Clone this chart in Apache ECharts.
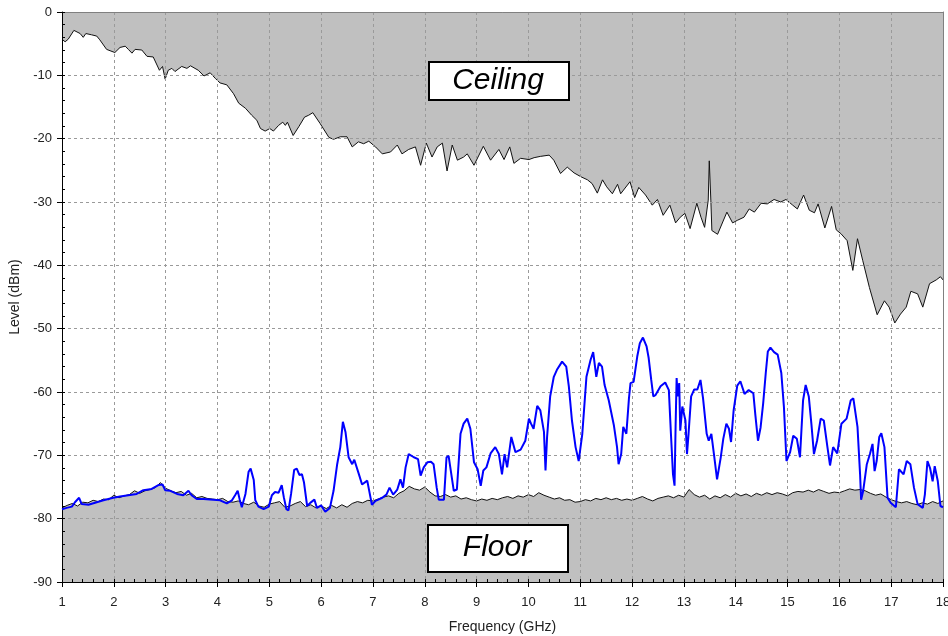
<!DOCTYPE html>
<html>
<head>
<meta charset="utf-8">
<script src="https://cdn.jsdelivr.net/npm/echarts@6/dist/echarts.min.js"></script>
<style>
html, body { margin: 0; padding: 0; background: #fff; }
#show_picture { width: 948px; height: 636px; }
</style>
</head>
<body>
<div id="show_picture"></div>
<script>
// upper limit line (grey above it)
const ceilFreq = [1.00, 1.06, 1.12, 1.23, 1.35, 1.41, 1.46, 1.57, 1.67, 1.73, 1.86, 2.02, 2.12, 2.22, 2.28, 2.35, 2.41, 2.54, 2.64, 2.76,
    2.88, 2.94, 2.99, 3.05, 3.12, 3.18, 3.31, 3.41, 3.48, 3.63, 3.74, 3.86, 3.96, 4.05, 4.18, 4.31, 4.41, 4.54, 4.66, 4.76,
    4.83, 4.92, 5.01, 5.08, 5.18, 5.26, 5.31, 5.35, 5.46, 5.57, 5.68, 5.76, 5.84, 5.98, 6.15, 6.24, 6.37, 6.50, 6.60, 6.72,
    6.82, 6.92, 7.05, 7.18, 7.34, 7.47, 7.56, 7.69, 7.82, 7.92, 8.03, 8.14, 8.24, 8.34, 8.43, 8.53, 8.63, 8.75, 8.82, 8.95,
    9.13, 9.27, 9.43, 9.53, 9.64, 9.72, 9.85, 10.01, 10.11, 10.23, 10.40, 10.49, 10.62, 10.75, 10.88, 11.01, 11.14, 11.23, 11.33, 11.43,
    11.51, 11.62, 11.72, 11.78, 11.96, 12.05, 12.13, 12.26, 12.39, 12.49, 12.60, 12.73, 12.84, 12.93, 13.02, 13.12, 13.25, 13.33, 13.40, 13.47,
    13.49, 13.52, 13.54, 13.65, 13.83, 13.94, 14.03, 14.16, 14.26, 14.36, 14.49, 14.61, 14.74, 14.87, 14.97, 15.10, 15.19, 15.31, 15.42, 15.52,
    15.59, 15.72, 15.85, 15.94, 16.03, 16.15, 16.26, 16.35, 16.45, 16.58, 16.73, 16.87, 16.96, 17.07, 17.18, 17.29, 17.38, 17.51, 17.61, 17.74,
    17.87, 17.95, 18.00];
const ceilLevel = [-4.3, -4.7, -4.3, -2.9, -3.4, -4.0, -3.4, -3.6, -3.8, -4.4, -5.9, -6.4, -5.6, -5.4, -5.9, -6.5, -5.9, -6.0, -7.0, -7.1,
    -9.2, -8.6, -10.6, -9.2, -8.9, -9.4, -8.6, -8.9, -8.5, -9.2, -10.1, -9.6, -10.5, -11.2, -11.5, -12.9, -14.4, -15.2, -16.3, -17.1,
    -18.4, -18.8, -18.4, -18.8, -17.9, -17.4, -17.9, -17.4, -19.5, -18.1, -16.6, -16.3, -15.9, -17.6, -19.8, -20.1, -19.7, -19.7, -21.3, -20.5,
    -20.8, -20.4, -21.3, -22.4, -22.1, -21.0, -22.4, -21.7, -21.3, -24.2, -20.7, -22.9, -21.3, -20.7, -25.1, -21.0, -23.4, -22.9, -22.4, -24.2,
    -21.2, -23.4, -21.7, -23.3, -21.3, -23.9, -23.1, -23.3, -23.0, -22.8, -22.6, -23.4, -25.5, -24.5, -25.4, -26.0, -26.5, -27.1, -28.6, -26.5,
    -27.6, -28.7, -27.2, -28.7, -26.8, -29.3, -27.7, -28.9, -30.5, -29.6, -32.1, -30.5, -33.3, -32.4, -31.8, -34.2, -30.2, -32.4, -34.0, -29.7,
    -23.5, -29.7, -34.5, -35.1, -31.6, -33.3, -32.9, -32.4, -31.1, -31.6, -30.2, -30.3, -29.6, -30.0, -29.6, -30.5, -31.1, -28.9, -31.3, -31.7,
    -30.3, -34.1, -30.7, -34.4, -35.0, -36.1, -40.8, -35.8, -39.2, -43.5, -47.8, -45.6, -46.6, -49.1, -47.7, -46.6, -44.1, -44.5, -46.6, -42.9,
    -42.3, -41.8, -42.3];

// lower limit line (grey below it)
const floorFreq = [1.0, 1.1, 1.2, 1.3, 1.4, 1.5, 1.6, 1.7, 1.8, 1.9, 2.0, 2.1, 2.2, 2.3, 2.4, 2.5, 2.6, 2.7, 2.8, 2.9,
    3.0, 3.1, 3.2, 3.3, 3.4, 3.5, 3.6, 3.7, 3.8, 3.9, 4.0, 4.1, 4.2, 4.3, 4.4, 4.5, 4.6, 4.7, 4.8, 4.9,
    5.0, 5.1, 5.2, 5.3, 5.4, 5.5, 5.6, 5.7, 5.8, 5.9, 6.0, 6.1, 6.2, 6.3, 6.4, 6.5, 6.6, 6.7, 6.8, 6.9,
    7.0, 7.1, 7.2, 7.3, 7.4, 7.5, 7.6, 7.7, 7.8, 7.9, 8.0, 8.1, 8.2, 8.3, 8.4, 8.5, 8.6, 8.7, 8.8, 8.9,
    9.0, 9.1, 9.2, 9.3, 9.4, 9.5, 9.6, 9.7, 9.8, 9.9, 10.0, 10.1, 10.2, 10.3, 10.4, 10.5, 10.6, 10.7, 10.8, 10.9,
    11.0, 11.1, 11.2, 11.3, 11.4, 11.5, 11.6, 11.7, 11.8, 11.9, 12.0, 12.1, 12.2, 12.3, 12.4, 12.5, 12.6, 12.7, 12.8, 12.9,
    13.0, 13.1, 13.2, 13.3, 13.4, 13.5, 13.6, 13.7, 13.8, 13.9, 14.0, 14.1, 14.2, 14.3, 14.4, 14.5, 14.6, 14.7, 14.8, 14.9,
    15.0, 15.1, 15.2, 15.3, 15.4, 15.5, 15.6, 15.7, 15.8, 15.9, 16.0, 16.1, 16.2, 16.3, 16.4, 16.5, 16.6, 16.7, 16.8, 16.9,
    17.0, 17.1, 17.2, 17.3, 17.4, 17.5, 17.6, 17.7, 17.8, 17.9, 18.0];
const floorLevel = [-78.3, -77.9, -77.6, -78.0, -77.4, -77.5, -77.1, -77.3, -76.9, -77.0, -76.3, -76.7, -76.4, -76.2, -75.6, -76.0, -75.6, -75.4, -75.1, -74.3,
    -75.2, -75.6, -75.9, -75.7, -76.3, -76.0, -76.7, -76.5, -76.8, -76.9, -77.0, -76.8, -77.3, -77.4, -77.2, -77.6, -77.8, -77.4, -78.0, -78.2,
    -77.7, -77.5, -77.3, -78.2, -78.0, -77.6, -77.3, -78.1, -77.8, -78.3, -78.0, -78.4, -77.9, -78.3, -77.8, -78.2, -77.6, -77.3, -77.5, -77.1,
    -77.2, -76.9, -76.6, -76.4, -76.7, -76.0, -75.6, -74.9, -75.3, -75.5, -75.0, -75.8, -76.4, -76.5, -76.2, -76.6, -76.4, -76.9, -76.7, -77.0,
    -77.2, -76.9, -77.1, -76.8, -77.0, -76.7, -76.5, -76.8, -76.4, -76.6, -76.2, -76.5, -75.9, -76.3, -76.6, -76.9, -76.7, -77.1, -77.0, -77.4,
    -77.3, -77.0, -77.2, -76.8, -77.0, -76.7, -77.0, -76.8, -77.1, -76.9, -77.1, -76.8, -76.5, -76.9, -77.2, -76.8, -76.6, -76.4, -76.7, -76.3,
    -76.6, -75.4, -76.2, -76.6, -76.3, -76.9, -76.4, -76.7, -76.2, -76.6, -76.0, -76.4, -76.1, -76.5, -76.0, -76.3, -75.9, -76.2, -75.9, -76.1,
    -76.4, -75.9, -75.7, -75.8, -75.5, -75.8, -75.4, -75.7, -76.0, -75.8, -75.9, -75.6, -75.3, -75.5, -75.4, -75.6, -76.0, -76.3, -76.1, -76.6,
    -77.0, -77.3, -77.5, -77.3, -77.6, -77.8, -77.5, -77.7, -77.3, -77.6, -77.2];

// measured trace (blue)
const sigFreq = [1.00, 1.09, 1.19, 1.25, 1.33, 1.38, 1.51, 1.67, 1.80, 1.99, 2.12, 2.28, 2.44, 2.57, 2.73, 2.86, 2.94, 2.99, 3.09, 3.22,
    3.34, 3.44, 3.50, 3.60, 3.73, 3.92, 4.05, 4.18, 4.28, 4.34, 4.39, 4.43, 4.47, 4.54, 4.60, 4.64, 4.70, 4.73, 4.79, 4.89,
    4.99, 5.05, 5.11, 5.18, 5.24, 5.28, 5.33, 5.37, 5.42, 5.48, 5.53, 5.58, 5.63, 5.67, 5.73, 5.79, 5.87, 5.92, 6.00, 6.08,
    6.17, 6.24, 6.31, 6.37, 6.42, 6.47, 6.53, 6.60, 6.64, 6.73, 6.79, 6.89, 6.92, 6.98, 7.05, 7.18, 7.26, 7.32, 7.39, 7.47,
    7.53, 7.58, 7.63, 7.69, 7.79, 7.87, 7.92, 7.98, 8.05, 8.12, 8.17, 8.23, 8.27, 8.37, 8.42, 8.46, 8.56, 8.62, 8.69, 8.75,
    8.82, 8.88, 8.95, 9.02, 9.08, 9.13, 9.19, 9.27, 9.36, 9.43, 9.49, 9.54, 9.59, 9.67, 9.75, 9.85, 9.94, 10.01, 10.05, 10.10,
    10.17, 10.23, 10.30, 10.33, 10.36, 10.42, 10.49, 10.55, 10.65, 10.73, 10.78, 10.84, 10.91, 10.97, 11.04, 11.12, 11.20, 11.25, 11.31, 11.36,
    11.42, 11.47, 11.55, 11.65, 11.71, 11.74, 11.79, 11.83, 11.89, 11.94, 11.97, 12.03, 12.10, 12.15, 12.21, 12.28, 12.32, 12.37, 12.41, 12.45,
    12.55, 12.64, 12.71, 12.75, 12.79, 12.82, 12.84, 12.86, 12.88, 12.91, 12.93, 12.97, 13.00, 13.03, 13.06, 13.09, 13.14, 13.20, 13.26, 13.32,
    13.37, 13.44, 13.48, 13.53, 13.58, 13.64, 13.71, 13.76, 13.82, 13.87, 13.91, 13.96, 14.03, 14.09, 14.17, 14.25, 14.34, 14.38, 14.43, 14.48,
    14.53, 14.58, 14.62, 14.67, 14.74, 14.81, 14.88, 14.93, 14.98, 15.05, 15.11, 15.18, 15.24, 15.30, 15.35, 15.41, 15.46, 15.51, 15.57, 15.64,
    15.70, 15.77, 15.82, 15.88, 15.96, 16.04, 16.14, 16.22, 16.27, 16.35, 16.40, 16.42, 16.46, 16.53, 16.59, 16.64, 16.68, 16.72, 16.77, 16.81,
    16.87, 16.93, 16.99, 17.09, 17.15, 17.24, 17.30, 17.37, 17.44, 17.51, 17.61, 17.65, 17.70, 17.75, 17.80, 17.84, 17.90, 17.95, 18.00];
const sigLevel = [-78.5, -78.3, -78.1, -77.4, -76.7, -77.7, -77.8, -77.4, -77.1, -76.7, -76.5, -76.3, -76.1, -75.5, -75.3, -74.7, -74.6, -75.5, -75.6, -76.1,
    -76.3, -75.6, -76.3, -76.9, -76.9, -77.0, -77.1, -77.6, -77.1, -76.3, -75.6, -77.0, -78.2, -76.1, -72.6, -72.1, -73.9, -77.1, -78.1, -78.5,
    -78.1, -76.3, -75.8, -75.9, -74.7, -76.6, -78.5, -78.7, -76.1, -72.3, -72.1, -73.1, -73.0, -74.3, -78.0, -77.5, -77.0, -78.3, -77.9, -78.9,
    -78.3, -75.6, -71.4, -68.7, -64.7, -66.3, -70.3, -71.4, -70.7, -73.0, -74.6, -74.0, -74.3, -77.8, -77.2, -76.7, -76.2, -75.1, -76.2, -75.4,
    -73.8, -75.1, -71.9, -69.8, -70.3, -70.6, -73.2, -71.9, -71.1, -71.0, -71.4, -75.1, -77.0, -77.0, -70.3, -70.1, -75.6, -75.4, -66.6, -65.0,
    -64.2, -65.8, -71.1, -72.2, -74.8, -72.4, -71.9, -69.7, -68.7, -69.8, -73.0, -69.8, -71.9, -67.1, -69.5, -69.1, -67.7, -64.2, -65.0, -65.8,
    -62.2, -62.9, -66.3, -72.4, -67.1, -60.7, -57.6, -56.5, -55.2, -56.0, -59.1, -64.5, -68.7, -70.9, -66.6, -57.6, -54.9, -53.7, -57.6, -55.4,
    -56.0, -58.9, -61.3, -65.3, -68.7, -71.4, -69.8, -65.5, -66.6, -61.0, -58.6, -58.4, -54.4, -52.3, -51.4, -52.8, -54.6, -58.1, -60.7, -60.5,
    -59.1, -58.5, -59.7, -66.6, -73.0, -74.8, -65.5, -57.8, -60.7, -58.6, -66.1, -62.3, -63.4, -64.5, -69.8, -66.6, -60.7, -59.6, -59.6, -58.1,
    -61.0, -66.6, -67.7, -66.6, -69.8, -73.8, -70.4, -67.4, -65.0, -65.8, -67.9, -62.9, -59.0, -58.3, -60.3, -59.7, -60.2, -63.7, -67.7, -65.6,
    -61.8, -57.0, -53.6, -53.0, -53.7, -54.1, -57.0, -62.3, -70.9, -69.5, -66.9, -67.4, -70.3, -61.3, -58.9, -60.7, -65.0, -69.8, -67.7, -64.2,
    -64.5, -68.7, -71.6, -68.7, -69.7, -65.0, -64.2, -61.3, -61.0, -65.5, -73.0, -77.0, -75.6, -71.4, -69.8, -68.2, -72.5, -70.9, -67.1, -66.5,
    -68.7, -76.7, -77.5, -78.2, -72.2, -73.0, -70.9, -71.4, -75.1, -77.7, -78.3, -76.2, -70.9, -72.0, -74.1, -71.7, -74.1, -78.0, -78.2];

const xTicks = { min: 1, max: 18, step: 1, minor: 0.2 };
const yTicks = { min: -90, max: 0, step: 10, minor: 2 };

function zip(xs, ys) {
    return xs.map((x, i) => [x, ys[i]]);
}

let myChart = echarts.init(document.getElementById('show_picture'));
const font = 'Arial, "Liberation Sans", sans-serif';
const boxFont = 'italic 30px Arial, "Liberation Sans", sans-serif';
const dashed = { color: '#9a9a9a', type: [3, 3], width: 1 };

let option = {
    animation: false,
    backgroundColor: '#fff',
    textStyle: { fontFamily: font },
    grid: {
        left: 62, right: 5, top: 12, bottom: 54, outerBoundsMode: 'none',
        show: true, backgroundColor: '#fff', borderWidth: 0
    },
    xAxis: [
        {
            type: 'value', position: 'bottom', min: xTicks.min, max: xTicks.max, interval: xTicks.step, z: 3,
            name: 'Frequency (GHz)', nameLocation: 'middle', nameGap: 38,
            nameTextStyle: { color: '#222', fontSize: 14, fontFamily: font },
            axisLine: { onZero: false, lineStyle: { color: '#000', width: 1 } },
            axisTick: { length: 5, lineStyle: { color: '#000' } },
            axisLabel: { margin: 14, color: '#222', fontSize: 13, fontFamily: font },
            splitLine: { lineStyle: dashed }
        },
        {
            type: 'value', position: 'bottom', min: xTicks.min, max: xTicks.max, interval: xTicks.minor, z: 3,
            axisLine: { show: false, onZero: false },
            axisTick: { inside: true, length: 3, lineStyle: { color: '#000' } },
            axisLabel: { show: false }, splitLine: { show: false }
        },
        {
            type: 'value', position: 'top', min: xTicks.min, max: xTicks.max, z: 3,
            axisLine: { onZero: false, lineStyle: { color: '#808080' } },
            axisTick: { show: false }, axisLabel: { show: false }, splitLine: { show: false }
        }
    ],
    yAxis: [
        {
            type: 'value', position: 'left', min: yTicks.min, max: yTicks.max, interval: yTicks.step, z: 3,
            name: 'Level (dBm)', nameLocation: 'middle', nameGap: 39,
            nameTextStyle: { color: '#222', fontSize: 14, fontFamily: font },
            axisLine: { onZero: false, lineStyle: { color: '#000', width: 1 } },
            axisTick: { length: 5, lineStyle: { color: '#000' } },
            axisLabel: { margin: 10, color: '#222', fontSize: 13, fontFamily: font },
            splitLine: { lineStyle: dashed }
        },
        {
            type: 'value', position: 'left', min: yTicks.min, max: yTicks.max, interval: yTicks.minor, z: 3,
            axisLine: { show: false, onZero: false },
            axisTick: { inside: true, length: 3, lineStyle: { color: '#000' } },
            axisLabel: { show: false }, splitLine: { show: false }
        },
        {
            type: 'value', position: 'right', min: yTicks.min, max: yTicks.max, z: 3,
            axisLine: { onZero: false, lineStyle: { color: '#808080' } },
            axisTick: { show: false }, axisLabel: { show: false }, splitLine: { show: false }
        }
    ],
    series: [
        {
            name: 'Ceiling', type: 'line', data: zip(ceilFreq, ceilLevel), symbol: 'none', z: 1,
            lineStyle: { color: '#111', width: 1 },
            areaStyle: { color: '#c0c0c0', opacity: 1, origin: 'end' }
        },
        {
            name: 'Floor', type: 'line', data: zip(floorFreq, floorLevel), symbol: 'none', z: 1,
            lineStyle: { color: '#111', width: 1 },
            areaStyle: { color: '#c0c0c0', opacity: 1, origin: 'start' }
        },
        {
            name: 'Level', type: 'line', data: zip(sigFreq, sigLevel), symbol: 'none', z: 5,
            lineStyle: { color: '#0000ff', width: 2 }
        }
    ],
    graphic: [
        {
            type: 'rect', left: 428, top: 61, z: 20,
            shape: { width: 140, height: 38 },
            style: { fill: '#fff', stroke: '#000', lineWidth: 2 }
        },
        {
            type: 'text', x: 498, y: 81, z: 21,
            style: { text: 'Ceiling', font: boxFont, fill: '#000', textAlign: 'center', textVerticalAlign: 'middle' }
        },
        {
            type: 'rect', left: 427, top: 524, z: 20,
            shape: { width: 140, height: 47 },
            style: { fill: '#fff', stroke: '#000', lineWidth: 2 }
        },
        {
            type: 'text', x: 497, y: 548, z: 21,
            style: { text: 'Floor', font: boxFont, fill: '#000', textAlign: 'center', textVerticalAlign: 'middle' }
        }
    ]
};

option && myChart.setOption(option);
</script>
</body>
</html>
